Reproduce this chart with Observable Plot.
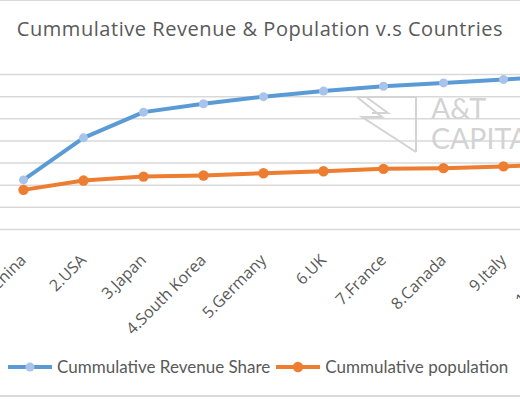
<!DOCTYPE html>
<html>
<head>
<meta charset="utf-8">
<script src="https://cdn.jsdelivr.net/npm/d3@7"></script>
<script src="https://cdn.jsdelivr.net/npm/@observablehq/plot@0.6"></script>
<style>
  html, body { margin: 0; padding: 0; background: #fff; }
  #wrap { position: relative; width: 520px; height: 400px; overflow: hidden; font-family: Lato, "Open Sans", sans-serif; }
  #title { position: absolute; left: 0; width: 520px; top: 15px; text-align: center; font-family: "Open Sans", Lato, sans-serif; font-size: 20px; letter-spacing: 0.55px; color: #595959; white-space: nowrap; }
  #chart { position: absolute; left: -7px; top: 0; width: 600px; }
  #chart svg { max-width: none !important; }
  #legend { position: absolute; top: 356px; left: 8px; font-size: 17px; color: #595959; white-space: nowrap; display: flex; align-items: center; }
  #legend .item { display: flex; align-items: center; }
  #legend svg { display: block; }
  .frameTop { position: absolute; left: 0; width: 520px; top: 0; height: 1px; background: #d9d9d9; }
  .frameBot { position: absolute; left: 0; width: 520px; top: 395px; height: 1.5px; background: #d9d9d9; }
  #wm { position: absolute; left: 0; top: 0; pointer-events: none; }
</style>
</head>
<body>
<div id="wrap">
  <div class="frameTop"></div>
  <div id="chart"></div>
  <svg id="wm" width="520" height="400">
    <g fill="none" stroke="#d3d3d3" stroke-width="2">
      <path d="M357,97 L416,97 L416,152"/>
      <path d="M357,97 L382,117 L362,117 L416,152"/>
      <path d="M366,97 L388,113 L372,113"/>
    </g>
    <g fill="#d3d3d3" font-family="Lato, 'Open Sans', sans-serif" font-size="28.5" >
      <text x="431" y="119">A&amp;T</text>
      <text x="431" y="149">CAPITAL</text>
    </g>
  </svg>
  <div id="title">Cummulative Revenue &amp; Population v.s Countries</div>
  <div id="legend"></div>
  <div class="frameBot"></div>
</div>
<script>
const countries = ["1.China","2.USA","3.Japan","4.South Korea","5.Germany","6.UK","7.France","8.Canada","9.Italy","10.Spain"];
const revenueShare = [22.4, 41.4, 53.0, 56.8, 60.0, 62.5, 64.7, 66.2, 67.7, 69.4];
const population   = [17.9, 22.1, 23.9, 24.4, 25.4, 26.3, 27.4, 27.7, 28.5, 29.4];
const yTicks = [0, 10, 20, 30, 40, 50, 60, 70];

const seriesNames = ["Cummulative Revenue Share", "Cummulative population"];
const lineColors = ["#5B9BD5", "#ED7D31"];
const markerColors = ["#A9C4EB", "#ED7D31"];

const rows = [];
countries.forEach((c, i) => {
  rows.push({country: c, value: revenueShare[i], series: seriesNames[0]});
  rows.push({country: c, value: population[i], series: seriesNames[1]});
});
const rev = rows.filter(d => d.series === seriesNames[0]);
const pop = rows.filter(d => d.series === seriesNames[1]);

const chart = Plot.plot({
  width: 600,
  height: 330,
  marginLeft: 0,
  marginRight: 0,
  marginTop: 74,
  marginBottom: 101,
  style: {fontFamily: "Lato, 'Open Sans', sans-serif", background: "transparent", overflow: "visible", maxWidth: "none"},
  x: {type: "point", domain: countries, padding: 0.5, label: null, axis: null},
  y: {domain: [0, 70], ticks: yTicks, label: null, axis: null},
  marks: [
    Plot.gridY(yTicks, {stroke: "#d9d9d9", strokeOpacity: 1, strokeWidth: 1.5}),
    Plot.text(countries, {x: d => d, frameAnchor: "bottom", rotate: -45, textAnchor: "end", lineAnchor: "middle", dy: 28, dx: 0, fontSize: 16, fontFamily: "'Open Sans', Lato, sans-serif", fill: "#595959"}),
    Plot.lineY(pop, {x: "country", y: "value", stroke: lineColors[1], strokeWidth: 4}),
    Plot.dot(pop, {x: "country", y: "value", r: 5.2, fill: markerColors[1], stroke: "none"}),
    Plot.lineY(rev, {x: "country", y: "value", stroke: lineColors[0], strokeWidth: 4}),
    Plot.dot(rev, {x: "country", y: "value", r: 4.5, fill: markerColors[0], stroke: "none"})
  ]
});
document.getElementById("chart").appendChild(chart);

const legend = document.getElementById("legend");
seriesNames.forEach((name, i) => {
  const item = document.createElement("div");
  item.className = "item";
  item.style.marginRight = i === 0 ? "6px" : "0";
  item.innerHTML = `<svg width="44" height="12"><line x1="0" y1="6" x2="44" y2="6" stroke="${lineColors[i]}" stroke-width="4"/><circle cx="22" cy="6" r="${i === 0 ? 4.5 : 5.2}" fill="${markerColors[i]}"/></svg><span style="margin-left:5px">${name}</span>`;
  legend.appendChild(item);
});
</script>
</body>
</html>
